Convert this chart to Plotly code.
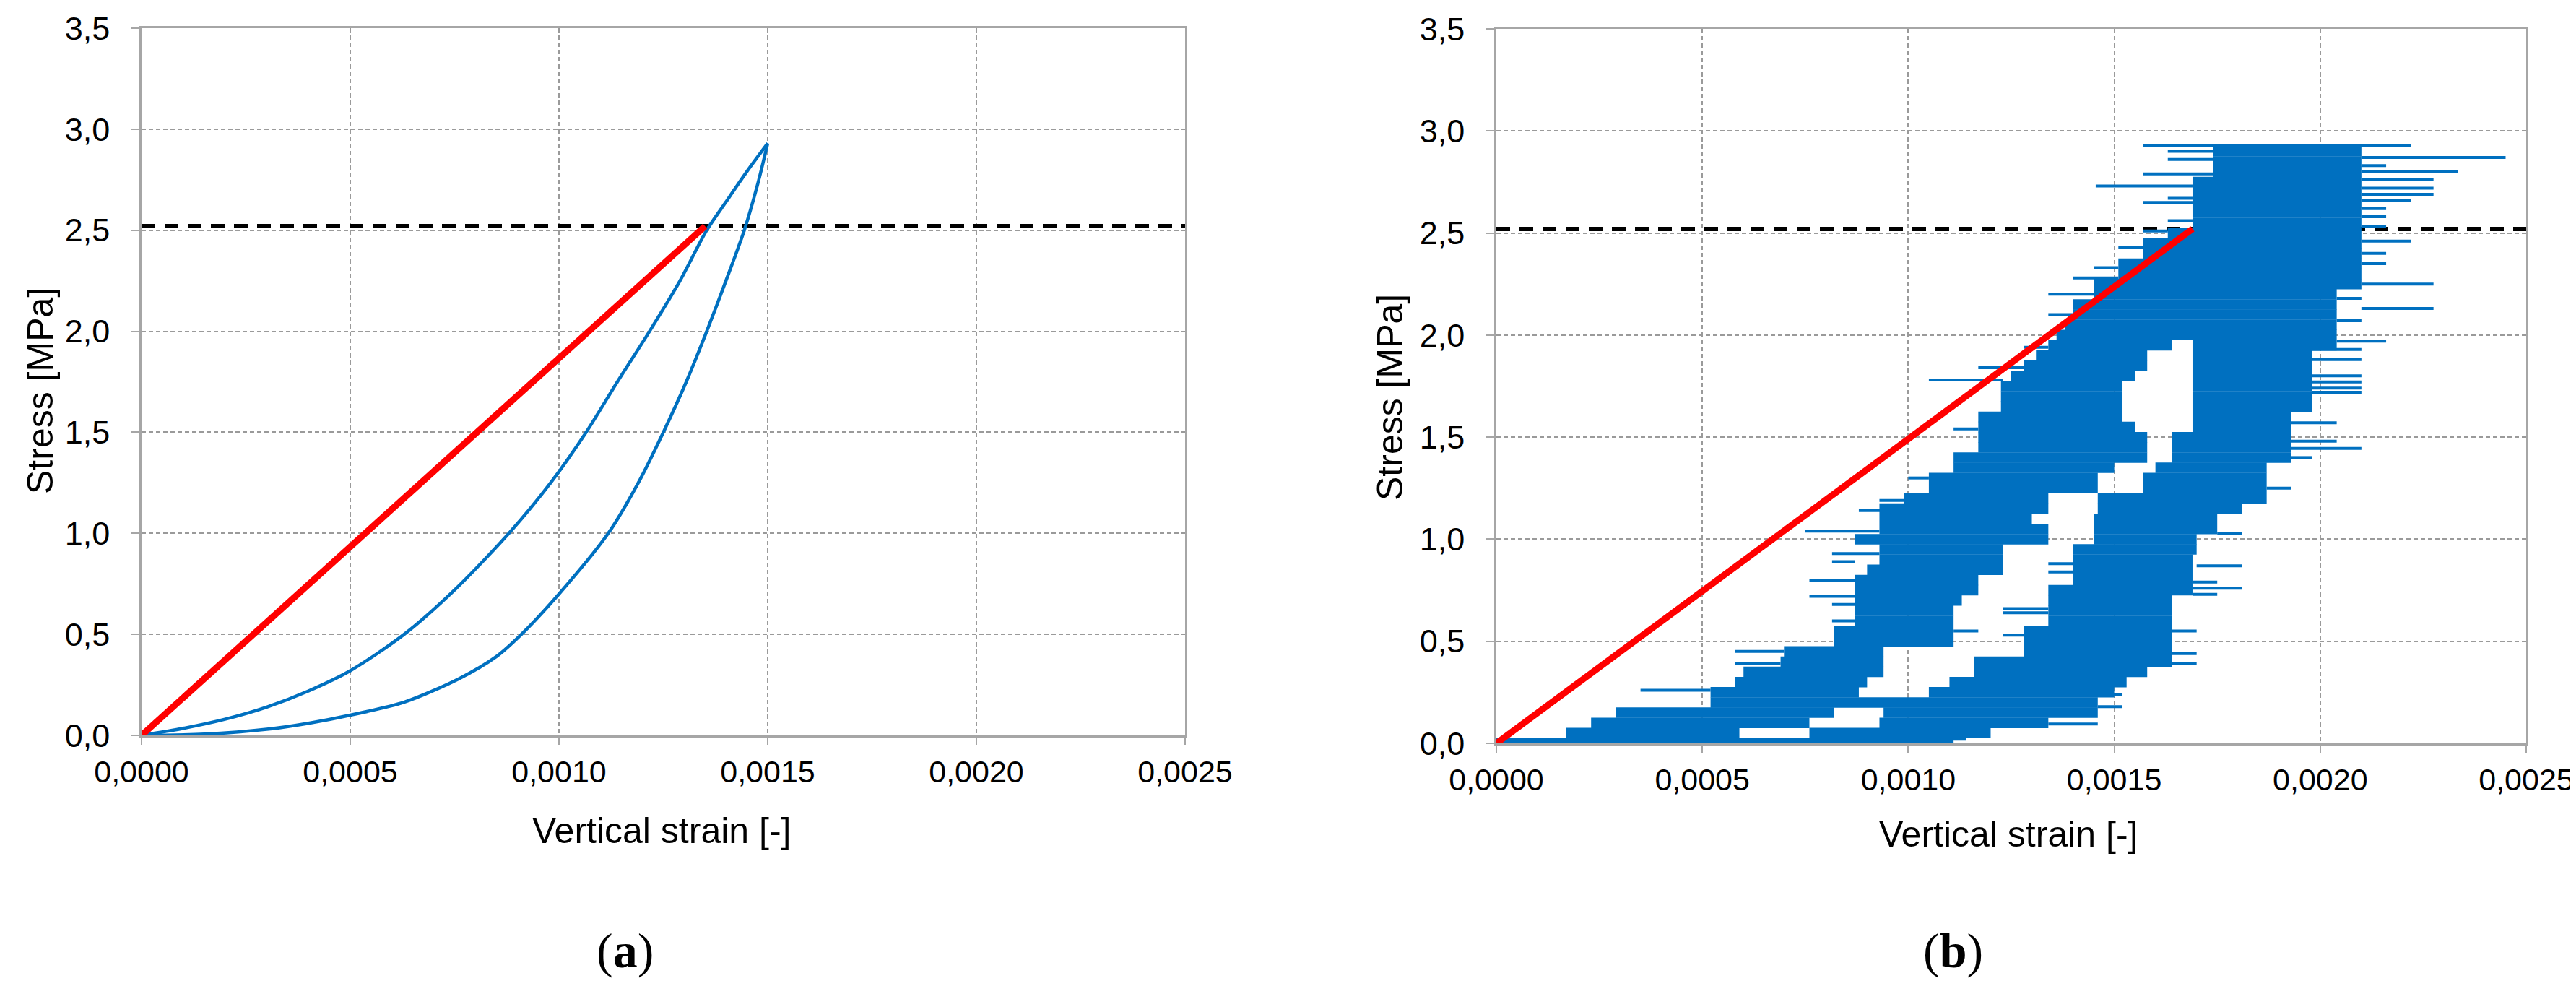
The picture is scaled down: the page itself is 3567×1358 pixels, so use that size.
import plotly.graph_objects as go

# ---------------- shared axis data ----------------
x_tick_vals = [0.0, 0.0005, 0.0010, 0.0015, 0.0020, 0.0025]
x_tick_text = ["0,0000", "0,0005", "0,0010", "0,0015", "0,0020", "0,0025"]
y_tick_vals = [0.0, 0.5, 1.0, 1.5, 2.0, 2.5, 3.0, 3.5]
y_tick_text = ["0,0", "0,5", "1,0", "1,5", "2,0", "2,5", "3,0", "3,5"]
x_range = [0.0, 0.0025]
y_range = [0.0, 3.5]
ref_stress = 2.52          # dashed horizontal reference level [MPa]

# ---------------- panel (a) ----------------
a_upper_strain = [0.0, 0.00010, 0.00020, 0.00030, 0.00040, 0.00050, 0.000629,
                  0.00075, 0.00088, 0.00098, 0.001065, 0.00114, 0.001217, 0.00129,
                  0.001354, 0.00140, 0.00145, 0.00150]
a_upper_stress = [0.0, 0.035, 0.08, 0.14, 0.22, 0.32, 0.50,
                  0.72, 1.00, 1.25, 1.50, 1.75, 2.00, 2.25,
                  2.50, 2.64, 2.79, 2.93]
a_lower_strain = [0.0, 0.00015, 0.00030, 0.00040, 0.00050, 0.00063, 0.00076, 0.00085, 0.00091,
                  0.00100, 0.001118, 0.00119, 0.00125, 0.001305, 0.001354,
                  0.00140, 0.001444, 0.001475, 0.00150]
a_lower_stress = [0.0, 0.006, 0.03, 0.06, 0.10, 0.165, 0.28, 0.39, 0.50,
                  0.70, 1.00, 1.25, 1.50, 1.75, 2.00,
                  2.25, 2.50, 2.72, 2.93]
a_secant_strain = [0.0, 0.00135]
a_secant_stress = [0.0, 2.52]

# ---------------- panel (b) ----------------
# dense band of noisy readings: stress level, first and second covered strain interval
b_band_stress = [0.00, 0.05, 0.10, 0.15, 0.20, 0.25, 0.30, 0.35, 0.40, 0.45,
                 0.50, 0.55, 0.60, 0.65, 0.70, 0.75, 0.80, 0.85, 0.90, 0.95,
                 1.00, 1.05, 1.10, 1.15, 1.20, 1.25, 1.30, 1.35, 1.40, 1.45,
                 1.50, 1.55, 1.60, 1.65, 1.70, 1.75, 1.80, 1.85, 1.90, 1.95,
                 2.00, 2.05, 2.10, 2.15, 2.20, 2.25, 2.30, 2.35, 2.40, 2.45,
                 2.50, 2.55, 2.60, 2.65, 2.70, 2.75, 2.80, 2.85, 2.90]
b_band1_from = [0.0, 0.00017, 0.00023, 0.00029, 0.00052, 0.00052, 0.00058, 0.00060, 0.00069, 0.00070,
                0.00082, 0.00082, 0.00087, 0.00087, 0.00087, 0.00087, 0.00087, 0.00090, 0.00093, 0.00093,
                0.00087, 0.00093, 0.00093, 0.00093, 0.00099, 0.00105, 0.00105, 0.00111, 0.00111, 0.00117,
                0.00117, 0.00117, 0.00117, 0.001225, 0.001225, 0.001225, 0.00125, 0.00128, 0.00131, 0.00134,
                0.00136, 0.00138, 0.00140, 0.00140, 0.00145, 0.00145, 0.00151, 0.00151, 0.00157, 0.00157,
                0.00163, 0.00169, 0.00169, 0.00169, 0.00169, 0.00169, 0.00174, 0.00174, 0.00174]
b_band1_to = [0.00111, 0.00059, 0.00076, 0.00082, 0.00146, 0.00088, 0.00090, 0.00094, 0.00094, 0.00094,
              0.00111, 0.00111, 0.00111, 0.00111, 0.00113, 0.00117, 0.00117, 0.00123, 0.00123, 0.00123,
              0.00134, 0.00134, 0.00130, 0.00134, 0.00134, 0.00146, 0.00146, 0.00150, 0.00158, 0.00158,
              0.00158, 0.00155, 0.00152, 0.00152, 0.00152, 0.00152, 0.00155, 0.00158, 0.00158, 0.00164,
              0.00204, 0.00204, 0.00204, 0.00204, 0.00204, 0.00210, 0.00210, 0.00210, 0.00210, 0.00210,
              0.00210, 0.00210, 0.00210, 0.00210, 0.00210, 0.00210, 0.00210, 0.00210, 0.00210]
b_band2_from = [None, 0.00076, 0.00093, 0.00094, None, 0.00105, 0.00110, 0.00116, 0.00116, 0.00128,
                0.00128, 0.00128, 0.00134, 0.00134, 0.00134, 0.00134, 0.00140, 0.00140, 0.00140, 0.00140,
                0.00145, 0.00145, 0.00145, 0.00146, 0.00146, 0.00157, 0.00157, 0.00160, 0.00164, 0.00164,
                0.00164, 0.00169, 0.00169, 0.00169, 0.00169, 0.00169, 0.00169, 0.00169, 0.00169, 0.00169,
                None, None, None, None, None, None, None, None, None, None,
                None, None, None, None, None, None, None, None, None]
b_band2_to = [None, 0.00120, 0.00134, 0.00146, None, 0.00150, 0.00153, 0.00158, 0.00164, 0.00164,
              0.00164, 0.00164, 0.00164, 0.00164, 0.00164, 0.00169, 0.00169, 0.00169, 0.00169, 0.00170,
              0.00170, 0.00175, 0.00175, 0.00181, 0.00187, 0.00187, 0.00187, 0.00187, 0.00193, 0.00193,
              0.00193, 0.00193, 0.00193, 0.00198, 0.00198, 0.00198, 0.00198, 0.00198, 0.00198, 0.00204,
              None, None, None, None, None, None, None, None, None, None,
              None, None, None, None, None, None, None, None, None]
# isolated single readings sticking out of the band
b_whisker_stress = [2.93, 2.90, 2.87, 2.86, 2.83, 2.80, 2.79, 2.76, 2.73, 2.72,
                    2.69, 2.67, 2.66, 2.65, 2.62, 2.58, 2.56, 2.53, 2.51, 2.46,
                    2.43, 2.40, 2.35, 2.33, 2.28, 2.25, 2.20, 2.18, 2.13, 2.10,
                    2.07, 1.97, 1.94, 1.93, 1.88, 1.84, 1.80, 1.78, 1.77, 1.74,
                    1.72, 1.57, 1.54, 1.48, 1.445, 1.40, 1.30, 1.25, 1.19, 1.14,
                    1.04, 1.03, 0.93, 0.89, 0.88, 0.87, 0.84, 0.80, 0.79, 0.76,
                    0.73, 0.72, 0.68, 0.66, 0.64, 0.60, 0.55, 0.55, 0.53, 0.45,
                    0.44, 0.39, 0.39, 0.26, 0.24, 0.18, 0.095, 0.02]
b_whisker_from = [0.00157, 0.00163, 0.00210, 0.00163, 0.00210, 0.00210, 0.00157, 0.00210, 0.001455, 0.00210,
                  0.00210, 0.00163, 0.00210, 0.00157, 0.00210, 0.00210, 0.00163, 0.00210, 0.00157, 0.00210,
                  0.00151, 0.00210, 0.00210, 0.00145, 0.00140, 0.00210, 0.00134, 0.00204, 0.00210, 0.00134,
                  0.00204, 0.00204, 0.00128, 0.00198, 0.00198, 0.00117, 0.00198, 0.00105, 0.00198, 0.00198,
                  0.00198, 0.00193, 0.00111, 0.00193, 0.00193, 0.00193, 0.00100, 0.00187, 0.00093, 0.00088,
                  0.00075, 0.00175, 0.000815, 0.000815, 0.00134, 0.00170, 0.00134, 0.00076, 0.00169, 0.00169,
                  0.00169, 0.00076, 0.000815, 0.00123, 0.00123, 0.000815, 0.00111, 0.00164, 0.00123, 0.00058,
                  0.00164, 0.00058, 0.00164, 0.00035, 0.00146, 0.00146, 0.00134, 0.0]
b_whisker_to = [0.00222, 0.00174, 0.00245, 0.00174, 0.00216, 0.002335, 0.00174, 0.002275, 0.00169, 0.002275,
                0.002275, 0.00169, 0.00222, 0.00169, 0.00216, 0.00216, 0.00169, 0.00216, 0.00163, 0.00222,
                0.00157, 0.00216, 0.00216, 0.00151, 0.00151, 0.002275, 0.00145, 0.00210, 0.002275, 0.00140,
                0.00210, 0.00216, 0.00134, 0.00210, 0.00210, 0.00128, 0.00210, 0.00123, 0.00210, 0.00210,
                0.00210, 0.00204, 0.00117, 0.00204, 0.00210, 0.00198, 0.00105, 0.00193, 0.00099, 0.00099,
                0.00093, 0.00181, 0.00093, 0.00087, 0.00140, 0.00181, 0.00140, 0.00087, 0.00175, 0.00181,
                0.00175, 0.00087, 0.00087, 0.00134, 0.00134, 0.00087, 0.00117, 0.00170, 0.00134, 0.00070,
                0.00170, 0.00069, 0.00170, 0.00052, 0.00152, 0.00152, 0.00146, 0.00114]
b_secant_strain = [0.0, 0.00169]
b_secant_stress = [0.0, 2.52]

# ---------------- styling ----------------
BLUE = "#0070C0"
RED = "#FF0000"
AXIS_GRAY = "#A6A6A6"
GRID_GRAY = "#9A9A9A"
FONT = "Liberation Sans, Arial, sans-serif"
W, H = 3567, 1358


def segments(ys, x0s, x1s):
    xs, yy = [], []
    for y, a, b in zip(ys, x0s, x1s):
        if a is None:
            continue
        xs += [a, b, None]
        yy += [y, y, None]
    return xs, yy


fig = go.Figure()

# panel (a)
fig.add_trace(go.Scatter(x=x_range, y=[ref_stress, ref_stress], mode="lines",
                         line=dict(color="black", width=6, dash="19px,13px"),
                         xaxis="x", yaxis="y", showlegend=False))
fig.add_trace(go.Scatter(x=a_upper_strain, y=a_upper_stress, mode="lines",
                         line=dict(color=BLUE, width=4.5, shape="spline", smoothing=0.8),
                         xaxis="x", yaxis="y", showlegend=False))
fig.add_trace(go.Scatter(x=a_lower_strain, y=a_lower_stress, mode="lines",
                         line=dict(color=BLUE, width=4.5, shape="spline", smoothing=0.8),
                         xaxis="x", yaxis="y", showlegend=False))
fig.add_trace(go.Scatter(x=a_secant_strain, y=a_secant_stress, mode="lines",
                         line=dict(color=RED, width=9),
                         xaxis="x", yaxis="y", showlegend=False))

# panel (b)
fig.add_trace(go.Scatter(x=x_range, y=[ref_stress, ref_stress], mode="lines",
                         line=dict(color="black", width=6, dash="19px,13px"),
                         xaxis="x2", yaxis="y2", showlegend=False))
bx1, by1 = segments(b_band_stress, b_band1_from, b_band1_to)
bx2, by2 = segments(b_band_stress, b_band2_from, b_band2_to)
fig.add_trace(go.Scatter(x=bx1 + bx2, y=by1 + by2, mode="lines",
                         line=dict(color=BLUE, width=14.5),
                         xaxis="x2", yaxis="y2", showlegend=False))
wx, wy = segments(b_whisker_stress, b_whisker_from, b_whisker_to)
fig.add_trace(go.Scatter(x=wx, y=wy, mode="lines",
                         line=dict(color=BLUE, width=4),
                         xaxis="x2", yaxis="y2", showlegend=False))
fig.add_trace(go.Scatter(x=b_secant_strain, y=b_secant_stress, mode="lines",
                         line=dict(color=RED, width=9),
                         xaxis="x2", yaxis="y2", showlegend=False))

xaxis_common = dict(range=x_range, tickvals=x_tick_vals, ticktext=x_tick_text,
                    showgrid=True, gridcolor=GRID_GRAY, gridwidth=1.5, griddash="6px,4px",
                    showline=True, linecolor=AXIS_GRAY, linewidth=3, mirror=True,
                    ticks="outside", ticklen=10, tickcolor=AXIS_GRAY, tickwidth=1.5,
                    tickfont=dict(family=FONT, size=43, color="black"),
                    ticklabelstandoff=0, zeroline=False, fixedrange=True, automargin=False)
yaxis_common = dict(range=y_range, tickvals=y_tick_vals, ticktext=y_tick_text,
                    showgrid=True, gridcolor=GRID_GRAY, gridwidth=1.5, griddash="6px,4px",
                    showline=True, linecolor=AXIS_GRAY, linewidth=2.5, mirror=True,
                    ticks="outside", ticklen=12, tickcolor=AXIS_GRAY, tickwidth=1.5,
                    tickfont=dict(family=FONT, size=45, color="black"),
                    ticklabelstandoff=20, zeroline=False, fixedrange=True, automargin=False)

ann_common = dict(xref="paper", yref="paper", xanchor="center", yanchor="middle", showarrow=False)
fig.update_layout(
    width=W, height=H,
    margin=dict(l=0, r=0, t=0, b=0, autoexpand=False),
    paper_bgcolor="white", plot_bgcolor="white",
    xaxis=dict(domain=[188 / W, 1633 / W], anchor="y", **xaxis_common),
    yaxis=dict(domain=[1 - 1010 / H, 1 - 31 / H], anchor="x", **yaxis_common),
    xaxis2=dict(domain=[2064 / W, 3490 / W], anchor="y2", **xaxis_common),
    yaxis2=dict(domain=[1 - 1021 / H, 1 - 32 / H], anchor="x2", **yaxis_common),
    annotations=[
        dict(text="Stress [MPa]", x=48 / W, y=1 - 533 / H, textangle=-90,
             font=dict(family=FONT, size=50, color="black"), **ann_common),
        dict(text="Stress [MPa]", x=1917 / W, y=1 - 542 / H, textangle=-90,
             font=dict(family=FONT, size=50, color="black"), **ann_common),
        dict(text="Vertical strain [-]", x=908 / W, y=1 - 1142 / H,
             font=dict(family=FONT, size=50, color="black"), **ann_common),
        dict(text="Vertical strain [-]", x=2773 / W, y=1 - 1147 / H,
             font=dict(family=FONT, size=50, color="black"), **ann_common),
        dict(text="(<b>a</b>)", x=857 / W, y=1 - 1308 / H,
             font=dict(family="Liberation Serif, Times New Roman, serif", size=68, color="black"),
             **ann_common),
        dict(text="(<b>b</b>)", x=2696 / W, y=1 - 1308 / H,
             font=dict(family="Liberation Serif, Times New Roman, serif", size=68, color="black"),
             **ann_common),
    ],
)

fig.write_html("out.html")
